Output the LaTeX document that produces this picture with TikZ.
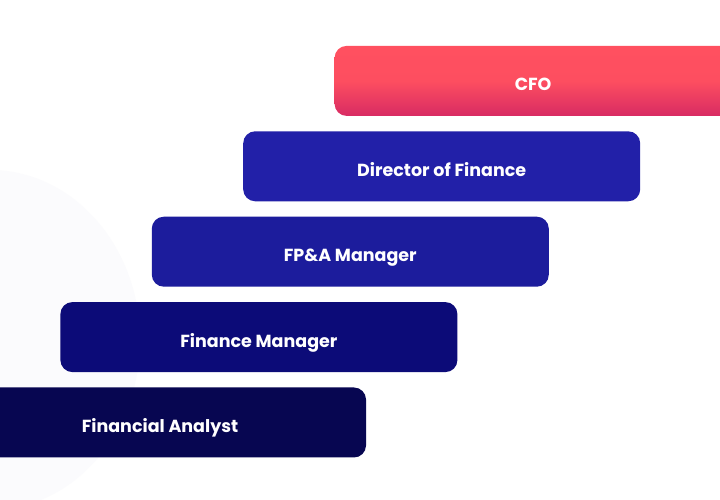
\documentclass[tikz,border=0pt]{standalone}
\usepackage{fontspec}
\setmainfont{Poppins}
\usepackage{xcolor}
\usetikzlibrary{positioning}

\definecolor{cforedtop}{HTML}{FF5060}
\definecolor{cforedbot}{HTML}{D82B63}
\definecolor{dirblue}{HTML}{2220A8}
\definecolor{fpablue}{HTML}{1C1C9C}
\definecolor{fmblue}{HTML}{0C0B78}
\definecolor{fanavy}{HTML}{070651}
\definecolor{blobgray}{HTML}{FBFBFD}

\begin{document}
\begin{tikzpicture}[
  font=\bfseries\fontsize{17.5}{20}\selectfont,
  x=1pt, y=1pt,
  box/.style={rounded corners=12pt, text=white, inner sep=0pt, text height=20pt, text depth=0pt,
    minimum width=397pt, minimum height=70pt},
  step up/.style={above right=15pt and -306pt of #1}
]
\useasboundingbox (0,0) rectangle (720,500);
\fill[white] (0,0) rectangle (720,500);
\fill[blobgray] (-10,160) ellipse [x radius=150, y radius=170];
\node[box, fill=fanavy, minimum width=412pt] (fa) at (160,77.5) {Financial Analyst};
\node[box, fill=fmblue, step up=fa] (fm) {Finance Manager};
\node[box, fill=fpablue, step up=fm] (fpa) {FP\&A Manager};
\node[box, fill=dirblue, step up=fpa] (dir) {Director of Finance};
\node[box, top color=cforedtop, bottom color=cforedbot, middle color=cforedtop!95!cforedbot, step up=dir] (cfo) {CFO};
\end{tikzpicture}
\end{document}
